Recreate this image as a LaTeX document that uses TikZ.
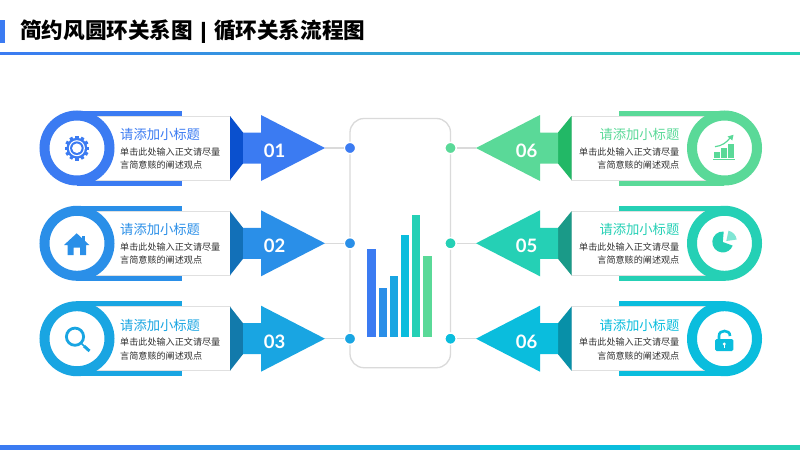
\documentclass[tikz,border=0pt]{standalone}
\usepackage{fontspec}
\setmainfont{Noto Sans CJK SC}
\newfontfamily\numfont{Lato}
\usetikzlibrary{calc}
\definecolor{cA}{HTML}{3B7BF2}\definecolor{dA}{HTML}{0A50CE}
\definecolor{cB}{HTML}{2A8FE8}\definecolor{dB}{HTML}{1270B8}
\definecolor{cC}{HTML}{19A5E2}\definecolor{dC}{HTML}{127AAB}
\definecolor{cD}{HTML}{5AD998}\definecolor{dD}{HTML}{22B866}
\definecolor{cE}{HTML}{25D0B5}\definecolor{dE}{HTML}{1A9A88}
\definecolor{cF}{HTML}{0ABDDD}\definecolor{dF}{HTML}{0890A8}
\definecolor{lE}{HTML}{7FE6D4}
\definecolor{frame}{HTML}{DADADA}
\definecolor{bodytxt}{HTML}{303030}
\tikzset{
  x=1pt,y=-1pt,
  cardbox/.style={fill=white,draw=black!12,line width=1pt},
  conn/.style={draw=frame,line width=1.3pt},
  dotn/.style={circle,fill=#1,draw=white,line width=1.5pt,minimum size=11.4pt,inner sep=0pt},
  ttl/.style={inner sep=0pt,font=\fontsize{13.3}{16}\selectfont,text=#1},
  bodytext/.style={inner sep=0pt,font=\fontsize{9.1}{13.3}\selectfont,text=bodytxt},
  numtxt/.style={inner sep=0pt,text=white,font=\numfont\bfseries\fontsize{18.5}{20}\selectfont},
  ringn/.style={circle,fill=white,draw=#1,line width=10pt,minimum size=65pt,inner sep=0pt}
}
% id, center y, colour, dark colour, number
\newcommand{\leftrow}[5]{%
  \fill[#3] (77,#2-37.5) rectangle (182,#2-32);
  \fill[#3] (77,#2+32) rectangle (182,#2+37.5);
  \draw[cardbox] (95,#2-32) rectangle (230,#2+32);
  \node[ringn=#3] (ring#1) at (77,#2) {};
  \fill[#4] (230,#2-32) -- (243,#2-15.5) -- (243,#2+15.5) -- (230,#2+32) -- cycle;
  \fill[#3] (243,#2-15.5) -- (261,#2-15.5) -- (261,#2-33) -- (325,#2) -- (261,#2+33) -- (261,#2+15.5) -- (243,#2+15.5) -- cycle;
  \coordinate (tip#1) at (325,#2);
  \node[dotn=#3] (dot#1) at (350,#2) {};
  \draw[conn] (tip#1) -- (dot#1);
  \node[ttl=#3,anchor=west] (title#1) at (120,#2-13.5) {请添加小标题};
  \node[bodytext,anchor=west] (bodya#1) at (120,#2+3.7) {单击此处输入正文请尽量};
  \node[bodytext,anchor=west] (bodyb#1) at (120,#2+17) {言简意赅的阐述观点};
  \node[numtxt] (num#1) at (274.5,#2+2.7) {#5};
}
\newcommand{\rightrow}[5]{%
  \fill[#3] (724,#2-37.5) rectangle (618.5,#2-32);
  \fill[#3] (724,#2+32) rectangle (618.5,#2+37.5);
  \draw[cardbox] (706,#2-32) rectangle (571.5,#2+32);
  \node[ringn=#3] (ring#1) at (724.5,#2) {};
  \fill[#4] (571.5,#2-32) -- (558,#2-15.5) -- (558,#2+15.5) -- (571.5,#2+32) -- cycle;
  \fill[#3] (558,#2-15.5) -- (540,#2-15.5) -- (540,#2-33) -- (476,#2) -- (540,#2+33) -- (540,#2+15.5) -- (558,#2+15.5) -- cycle;
  \coordinate (tip#1) at (476,#2);
  \node[dotn=#3] (dot#1) at (450.5,#2) {};
  \draw[conn] (tip#1) -- (dot#1);
  \node[ttl=#3,anchor=east] (title#1) at (679.5,#2-13.5) {请添加小标题};
  \node[bodytext,anchor=east] (bodya#1) at (679.5,#2+3.7) {单击此处输入正文请尽量};
  \node[bodytext,anchor=east] (bodyb#1) at (679.5,#2+17) {言简意赅的阐述观点};
  \node[numtxt] (num#1) at (526.5,#2+2.7) {#5};
}
\begin{document}
\begin{tikzpicture}
\useasboundingbox (0,0) rectangle (800,450);
\fill[white] (0,0) rectangle (800,450);
% header
\fill[cA] (0,19.5) rectangle (5.3,43);
\shade[left color=cA,right color=cE] (0,52.3) rectangle (800,54);
\node[inner sep=0pt,anchor=west,font=\bfseries\fontsize{21.6}{24}\selectfont,text=black] (head) at (20,31)
  {简约风圆环关系图\hspace{7.6pt}\raisebox{1pt}{\fontsize{17.5}{17.5}\selectfont\addfontfeature{FakeBold=5}|}\hspace{8pt}循环关系流程图};
% footer
\fill[cA] (0,445) rectangle (160,450);
\fill[cB] (160,445) rectangle (320,450);
\fill[cC] (320,445) rectangle (480,450);
\fill[cF] (480,445) rectangle (640,450);
\fill[cE] (640,445) rectangle (800,450);
% frame
\draw[frame,line width=1.3pt,rounded corners=14pt] (350,118.5) rectangle (450.5,367.7);
% bars
\fill[cA] (367.3,249.3) rectangle (376,336.7);
\fill[cB] (378.7,288.3) rectangle (387.3,336.7);
\fill[cC] (389.7,276.3) rectangle (398.3,336.7);
\fill[cF] (400.7,235.3) rectangle (409.3,336.7);
\fill[cE] (411.7,215) rectangle (420.3,336.7);
\fill[cD] (423,256) rectangle (431.7,336.7);
% rows
\leftrow{a}{148}{cA}{dA}{01}
\leftrow{b}{243.3}{cB}{dB}{02}
\leftrow{c}{338.7}{cC}{dC}{03}
\rightrow{d}{148}{cD}{dD}{06}
\rightrow{e}{243.3}{cE}{dE}{05}
\rightrow{f}{338.7}{cF}{dF}{06}
% gear
\begin{scope}[shift={(76.9,148.2)}]
  \fill[cA] (0,0) circle (10.4);
  \foreach \a in {0,30,...,330}
    \fill[cA,rotate=\a] (-1.6,-12.4) rectangle (1.6,-8);
  \fill[white] (0,0) circle (8);
  \fill[cA] (0,0) circle (6.8);
  \fill[white] (0,0) circle (4.8);
\end{scope}
% house
\fill[cB] (76.7,233.3) -- (89.3,245) -- (86,245) -- (86,255) -- (80,255) -- (80,247.5) -- (73.5,247.5) -- (73.5,255) -- (67.5,255) -- (67.5,245) -- (64,245) -- cycle;
\fill[cB] (81.5,235.5) rectangle (84.5,241);
% magnifier
\draw[cC,line width=2.8pt] (75,336.7) circle (8.6);
\draw[cC,line width=1.6pt] (81,343) -- (84,346);
\draw[cC,line width=3pt] (84,346) -- (89.5,351);
% chart
\fill[cD] (714,151.7) rectangle (719.5,157.5);
\fill[cD] (720.7,147.7) rectangle (726.7,157.5);
\fill[cD] (727.7,144) rectangle (733.5,157.5);
\fill[cD] (713.2,158.6) rectangle (735,159.8);
\draw[cD,line width=1.2pt] (715,146.7) .. controls (722,146) and (727,142) .. (730,138);
\fill[cD] (733.5,134.8) -- (732.3,140.5) -- (727.5,136.5) -- cycle;
% pie
\begin{scope}[shift={(722.8,242)}]
  \fill[cE] (0,0) -- (-85:10.5) arc[start angle=-85,end angle=-340,radius=10.5] -- cycle;
  \fill[lE] (3.5,-1) -- ++(-78:10.5) arc[start angle=-78,end angle=-8,radius=10.5] -- cycle;
\end{scope}
% lock
\fill[cF,rounded corners=1.5pt] (715,339) rectangle (733.3,351);
\draw[cF,line width=2.6pt] (719,340) -- (719,336) .. controls (719,332.5) and (721.5,331) .. (724.5,331) .. controls (727.5,331) and (730,332.5) .. (730,336);
\fill[white] (724.2,344) circle (1.7);
\fill[white] (723.5,344) rectangle (725,348);
\end{tikzpicture}
\end{document}
